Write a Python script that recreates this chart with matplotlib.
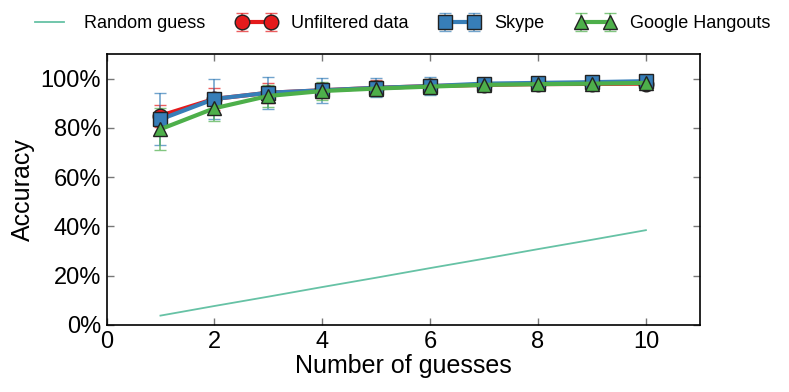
import matplotlib
matplotlib.use("Agg")
import matplotlib.pyplot as plt
from matplotlib.ticker import FuncFormatter

plt.rcParams['font.family'] = ['Liberation Sans', 'DejaVu Sans']

guesses = [1, 2, 3, 4, 5, 6, 7, 8, 9, 10]
random_guess = [3.8, 7.7, 11.5, 15.4, 19.2, 23.1, 26.9, 30.8, 34.6, 38.5]
unfiltered = [85.0, 91.8, 94.3, 95.3, 96.3, 97.0, 97.5, 97.8, 97.9, 98.0]
unfiltered_err = [4.5, 4.5, 4.0, 3.0, 3.0, 3.0, 2.0, 1.5, 1.0, 1.0]
skype = [83.5, 91.8, 94.3, 95.3, 96.3, 97.0, 98.0, 98.3, 98.6, 99.0]
skype_err = [10.5, 8.0, 6.5, 5.0, 3.8, 3.5, 2.0, 1.5, 1.2, 1.0]
hangouts = [79.5, 88.0, 93.0, 95.0, 96.0, 96.8, 97.5, 97.8, 98.0, 98.3]
hangouts_err = [8.5, 5.0, 4.5, 3.5, 3.0, 3.0, 2.0, 1.5, 1.2, 1.0]

fig = plt.figure(figsize=(7.89, 3.92), dpi=100)
ax = fig.add_axes([0.135, 0.171, 0.752, 0.691])

ax.plot(guesses, random_guess, color='#66c2a5', lw=1.3, label='Random guess')

series = [
    (unfiltered, unfiltered_err, '#e41a1c', 'o', 'Unfiltered data'),
    (skype, skype_err, '#377eb8', 's', 'Skype'),
    (hangouts, hangouts_err, '#4daf4a', '^', 'Google Hangouts'),
]
for vals, err, col, mk, lab in series:
    eb = ax.errorbar(guesses, vals, yerr=err, color=col, lw=3, marker=mk,
                     markersize=10.5, markeredgecolor='#222222', markeredgewidth=1,
                     ecolor=col, elinewidth=1.2, capsize=4, capthick=1.2,
                     label=lab)
    for c in eb[1]:
        c.set_alpha(0.7)
    for c in eb[2]:
        c.set_alpha(0.7)

ax.set_xlim(0, 11)
ax.set_ylim(0, 110)
ax.set_xticks([0, 2, 4, 6, 8, 10])
ax.set_yticks([0, 20, 40, 60, 80, 100])
ax.yaxis.set_major_formatter(FuncFormatter(lambda v, p: f"{int(v)}%"))
ax.tick_params(direction='in', top=True, right=True, length=5, width=1,
               color='#777777', labelsize=17, pad=4)
for s in ax.spines.values():
    s.set_linewidth(1.2)
ax.set_xlabel('Number of guesses', fontsize=18, labelpad=1)
ax.set_ylabel('Accuracy', fontsize=18, labelpad=4)

fig.legend(loc='upper center', bbox_to_anchor=(0.507, 1.003), ncol=4, frameon=False,
           numpoints=2, fontsize=13, handlelength=2.2, columnspacing=1.75,
           handletextpad=0.8)

fig.savefig('out.png', dpi=100)
